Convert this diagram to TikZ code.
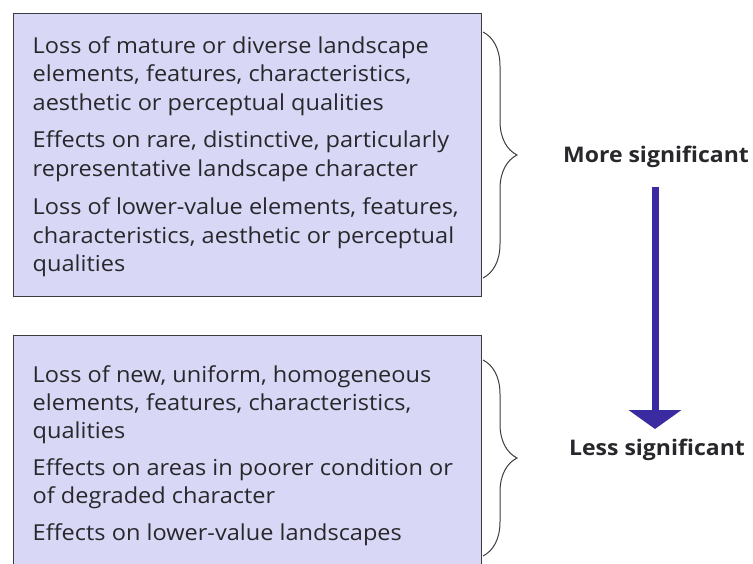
\documentclass[tikz,border=0pt]{standalone}
\usepackage{fontspec}
\setmainfont{Open Sans}[FakeStretch=1.07]
\usetikzlibrary{arrows.meta,decorations.pathreplacing}
\definecolor{boxfill}{RGB}{216,216,246}
\definecolor{boxline}{RGB}{60,60,66}
\definecolor{txt}{RGB}{40,40,44}
\definecolor{arrowblue}{RGB}{58,44,160}
\tikzset{
  panel/.style={draw=boxline,line width=1.3pt,fill=boxfill},
  line/.style={anchor=base west,inner sep=0pt,text=txt,font=\fontsize{22}{26}\selectfont},
  sig/.style={anchor=base,inner sep=0pt,text=txt,font=\fontsize{21.5}{26}\selectfont\bfseries},
  bracestyle/.style={draw=boxline,line width=1pt,decorate,decoration={brace,amplitude=34pt,aspect=0.5}},
}
\begin{document}
\begin{tikzpicture}[x=1pt,y=-1pt]
\useasboundingbox (0,0) rectangle (753,564);
\clip (0,0) rectangle (753,564);
% boxes
\node[panel,minimum width=468pt,minimum height=283pt,anchor=north west,inner sep=0pt] (top) at (13,13) {};
\node[panel,minimum width=468pt,minimum height=250pt,anchor=north west,inner sep=0pt] (bot) at (13,335) {};
% top text
\node[line] (a1) at (32.5,53.5) {Loss of mature or diverse landscape};
\node[line] (a2) at (32.5,82) {elements, features, characteristics,};
\node[line] (a3) at (32.5,110.5) {aesthetic or perceptual qualities};
\node[line] (a4) at (32.5,148) {Effects on rare, distinctive, particularly};
\node[line] (a5) at (32.5,176.5) {representative landscape character};
\node[line] (a6) at (32.5,215) {Loss of lower-value elements, features,};
\node[line] (a7) at (32.5,243.5) {characteristics, aesthetic or perceptual};
\node[line] (a8) at (32.5,272) {qualities};
% bottom text
\node[line] (b1) at (32.5,382) {Loss of new, uniform, homogeneous};
\node[line] (b2) at (32.5,410) {elements, features, characteristics,};
\node[line] (b3) at (32.5,438) {qualities};
\node[line] (b4) at (32.5,475) {Effects on areas in poorer condition or};
\node[line] (b5) at (32.5,503) {of degraded character};
\node[line] (b6) at (32.5,540) {Effects on lower-value landscapes};
% braces
\coordinate (tb1) at (483,32);
\coordinate (tb2) at (483,278);
\coordinate (bb1) at (483,360);
\coordinate (bb2) at (483,556);
\draw[bracestyle] (tb1) -- (tb2);
\draw[bracestyle] (bb1) -- (bb2);
% labels and arrow
\node[sig] (more) at (656,163) {More significant};
\node[sig] (less) at (657,455) {Less significant};
\coordinate (atop) at (655,187);
\coordinate (abot) at (655,429);
\draw[arrowblue,line width=7pt,-{Triangle[width=52pt,length=19pt]}] (atop) -- (abot);
\end{tikzpicture}
\end{document}
